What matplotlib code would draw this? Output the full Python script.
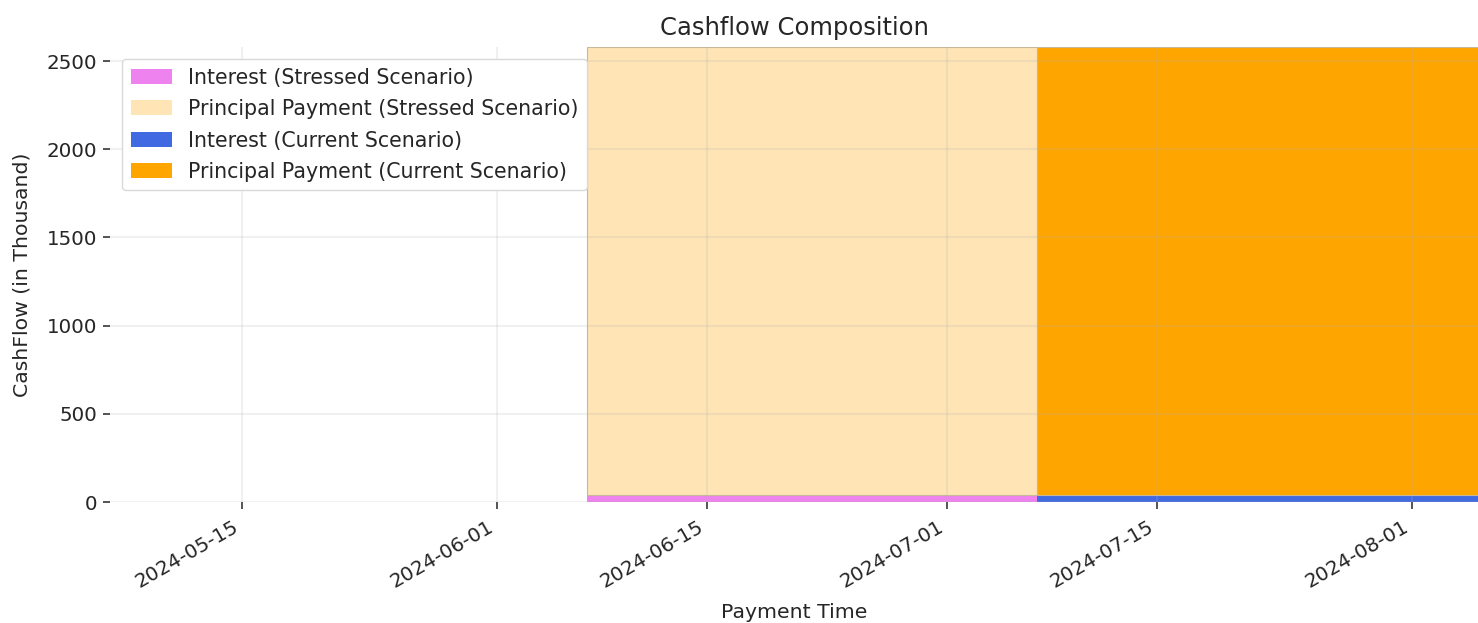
import matplotlib
matplotlib.use("Agg")
import matplotlib.pyplot as plt
import matplotlib.dates as mdates
import numpy as np
import pandas as pd

# Data (in thousands)
scenarios = ["Stressed Scenario", "Current Scenario"]
payment_dates = pd.to_datetime(["2024-06-22", "2024-07-22"])
interest = [40, 40]
principal = [2540, 2540]
interest_colors = ["violet", "royalblue"]
principal_colors = ["moccasin", "orange"]
bar_width_days = 30

TXT = "#262626"
plt.rcParams["text.color"] = TXT
plt.rcParams["axes.labelcolor"] = TXT
plt.rcParams["xtick.color"] = TXT
plt.rcParams["ytick.color"] = TXT

fig = plt.figure(figsize=(14.78, 6.23), dpi=100)
ax = fig.add_axes([110 / 1478, 1 - 502 / 623, (1478 - 110) / 1478, (502 - 47) / 623])

for i, sc in enumerate(scenarios):
    d = mdates.date2num(payment_dates[i])
    ax.bar(d, interest[i], width=bar_width_days, color=interest_colors[i],
           label=f"Interest ({sc})", edgecolor="none")
    ax.bar(d, principal[i], width=bar_width_days, bottom=interest[i],
           color=principal_colors[i], label=f"Principal Payment ({sc})",
           edgecolor="#c8b89a", linewidth=0.8)

ax.set_axisbelow(False)
ax.grid(True, color="#b0b0b0", alpha=0.18, linewidth=1.5)
for s in ax.spines.values():
    s.set_visible(False)

ax.xaxis_date()
ax.xaxis.set_major_locator(mdates.DayLocator(bymonthday=[1, 15]))
ax.xaxis.set_major_formatter(mdates.DateFormatter("%Y-%m-%d"))
ax.set_xlim(mdates.date2num(pd.Timestamp("2024-05-06 05:00")),
            mdates.date2num(pd.Timestamp("2024-08-05 10:00")))
ax.set_ylim(0, sum([interest[0], principal[0]]))
ax.set_yticks([0, 500, 1000, 1500, 2000, 2500])
plt.setp(ax.get_xticklabels(), rotation=30, ha="right")
ax.tick_params(axis="both", labelsize=14.3, length=5, width=1.1)
ax.tick_params(axis="x", pad=6)
ax.tick_params(axis="y", pad=4)

ax.set_title("Cashflow Composition", fontsize=17.5, pad=9)
ax.set_xlabel("Payment Time", fontsize=14.7, labelpad=8)
ax.set_ylabel("CashFlow (in Thousand)", fontsize=14.7, labelpad=11)

h, l = ax.get_legend_handles_labels()
leg = ax.legend(h, l, loc="upper left", fontsize=14.8, framealpha=1,
                edgecolor="#d9d9d9", borderaxespad=0.6, handlelength=2.0,
                handleheight=0.75, labelspacing=0.56)
for t in leg.get_texts():
    t.set_color(TXT)
for p in leg.get_patches():
    p.set_edgecolor("none")

fig.savefig("out.png", dpi=100)
